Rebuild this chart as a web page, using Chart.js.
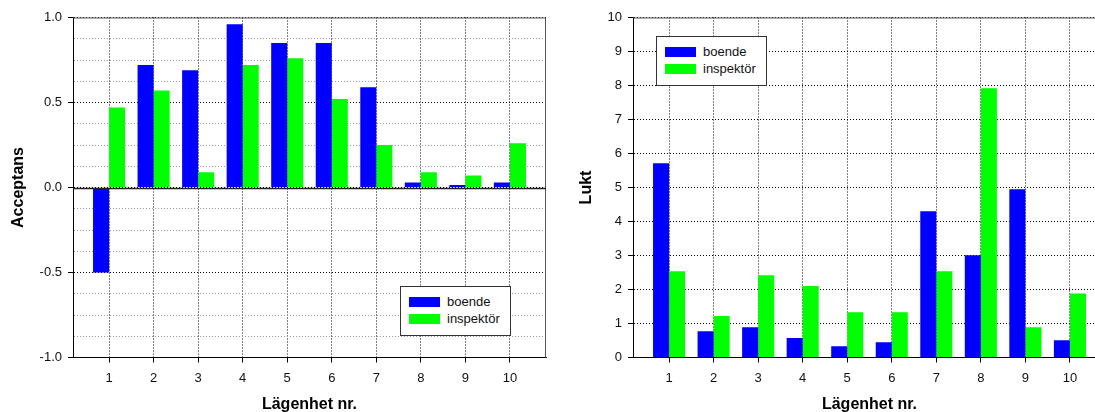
<!DOCTYPE html>
<html>
<head>
<meta charset="utf-8">
<script src="https://cdn.jsdelivr.net/npm/chart.js@4"></script>
<style>
  body { margin: 0; width: 1095px; height: 412px; overflow: hidden; background: #fff; position: relative;
         font-family: "Liberation Sans", Arial, sans-serif; }
  .panel { position: absolute; top: 0; width: 560px; height: 412px; }
  .legend { position: absolute; width: 109px; height: 48px; border: 1px solid #333; background: #fff; }
  .legend .row { position: absolute; left: 8px; height: 14px; font-size: 13px; line-height: 14px; color: #111; white-space: nowrap; }
  .legend .sw { display: inline-block; width: 31px; height: 10px; vertical-align: -1px; margin-right: 7px; }
</style>
</head>
<body>
<div class="panel" style="left:0"><canvas id="accChart" width="560" height="412"></canvas></div>
<div class="panel" style="left:560px"><canvas id="luktChart" width="560" height="412"></canvas></div>
<div class="legend" id="accLegend" style="left:400px; top:286px"></div>
<div class="legend" id="luktLegend" style="left:656px; top:36px"></div>
<script>
// apartments on the x axis
const lagenhet = [1, 2, 3, 4, 5, 6, 7, 8, 9, 10];
const seriesNames = ['boende', 'inspektör'];
const seriesColors = ['#0000ff', '#00ff00'];

// left panel: Acceptans
const acceptansBoende = [-0.50, 0.72, 0.69, 0.96, 0.85, 0.85, 0.59, 0.03, 0.015, 0.03];
const acceptansInspektor = [0.47, 0.57, 0.09, 0.72, 0.76, 0.52, 0.25, 0.09, 0.07, 0.26];
const acceptansTicks = [-1, -0.5, 0, 0.5, 1];

// right panel: Lukt
const luktBoende = [5.71, 0.77, 0.89, 0.57, 0.33, 0.45, 4.30, 3.01, 4.95, 0.51];
const luktInspektor = [2.54, 1.22, 2.42, 2.10, 1.33, 1.33, 2.54, 7.92, 0.89, 1.88];
const luktTicks = [0, 1, 2, 3, 4, 5, 6, 7, 8, 9, 10];

const tickFont = { family: '"Liberation Sans", Arial, sans-serif', size: 13 };
const titleFont = { family: '"Liberation Sans", Arial, sans-serif', size: 16, weight: 'bold', lineHeight: 1 };

// frame on top/right plus the solid zero line
const framePlugin = {
  id: 'frame',
  afterDatasetsDraw(chart, args, opts) {
    const { ctx, chartArea: a, scales } = chart;
    ctx.save();
    ctx.strokeStyle = '#555';
    ctx.lineWidth = 1;
    ctx.beginPath();
    ctx.moveTo(a.left, a.top + 0.5);
    ctx.lineTo(a.right - 0.5, a.top + 0.5);
    ctx.lineTo(a.right - 0.5, a.bottom);
    ctx.stroke();
    if (opts.zero) {
      const y = Math.round(scales.y.getPixelForValue(0)) + 0.5;
      ctx.strokeStyle = '#222';
      ctx.lineWidth = 1.3;
      ctx.beginPath();
      ctx.moveTo(a.left, y);
      ctx.lineTo(a.right, y);
      ctx.stroke();
    }
    ctx.restore();
  }
};

function makeChart(id, boende, inspektor, yCfg, yTitle, titlePad, zero) {
  const datasets = [boende, inspektor].map((vals, i) => ({
    label: seriesNames[i],
    data: lagenhet.map((x, j) => ({ x: x, y: vals[j] })),
    backgroundColor: seriesColors[i],
    borderWidth: 0,
    categoryPercentage: 0.72,
    barPercentage: 1.0
  }));
  return new Chart(document.getElementById(id), {
    type: 'bar',
    data: { datasets: datasets },
    plugins: [framePlugin],
    options: {
      responsive: false,
      animation: false,
      layout: { padding: { top: 17.5, right: 14, left: 0, bottom: 0 } },
      plugins: { legend: { display: false }, tooltip: { enabled: false }, frame: { zero: zero } },
      scales: {
        x: {
          type: 'linear', min: 0.19, max: 10.81, offset: false,
          afterBuildTicks: s => { s.ticks = lagenhet.map(v => ({ value: v })); },
          afterFit: s => { s.height = 54.5; },
          grid: { offset: false, color: '#000', lineWidth: 1, tickColor: '#000', tickLength: 5 },
          border: { color: '#000', width: 1, dash: [1, 2] },
          ticks: { font: tickFont, color: '#111', padding: 8, autoSkip: false, maxRotation: 0 },
          title: { display: true, text: 'Lägenhet nr.', font: titleFont, color: '#000', padding: { top: 0, bottom: -1 } }
        },
        y: Object.assign({
          afterFit: s => { s.width = 73; },
          border: { color: '#000', width: 1, dash: [1, 2] },
          title: { display: true, text: yTitle, font: titleFont, color: '#000', padding: { top: titlePad, bottom: 0 } }
        }, yCfg)
      }
    }
  });
}

const isMajor = v => acceptansTicks.some(t => Math.abs(t - v) < 1e-9);

makeChart('accChart', acceptansBoende, acceptansInspektor, {
  min: -1, max: 1,
  grid: {
    color: c => isMajor(c.tick.value) ? '#000' : '#999',
    tickColor: c => isMajor(c.tick.value) ? '#000' : 'rgba(0,0,0,0)',
    tickLength: 5, lineWidth: 1
  },
  ticks: {
    stepSize: 0.125, maxTicksLimit: 100, autoSkip: false, font: tickFont, color: '#111', padding: 6,
    callback: v => isMajor(v) ? v.toFixed(1) : ''
  }
}, 'Acceptans', 11, true);

makeChart('luktChart', luktBoende, luktInspektor, {
  min: 0, max: 10,
  afterBuildTicks: s => { s.ticks = luktTicks.map(v => ({ value: v })); },
  grid: { color: '#000', tickColor: '#000', tickLength: 5, lineWidth: 1 },
  ticks: { autoSkip: false, font: tickFont, color: '#111', padding: 6 }
}, 'Lukt', 18.7, false);

function buildLegend(id) {
  const box = document.getElementById(id);
  seriesNames.forEach((name, i) => {
    const row = document.createElement('div');
    row.className = 'row';
    row.style.top = (8 + i * 17) + 'px';
    const sw = document.createElement('span');
    sw.className = 'sw';
    sw.style.background = seriesColors[i];
    row.appendChild(sw);
    row.appendChild(document.createTextNode(name));
    box.appendChild(row);
  });
}
buildLegend('accLegend');
buildLegend('luktLegend');
</script>
</body>
</html>
